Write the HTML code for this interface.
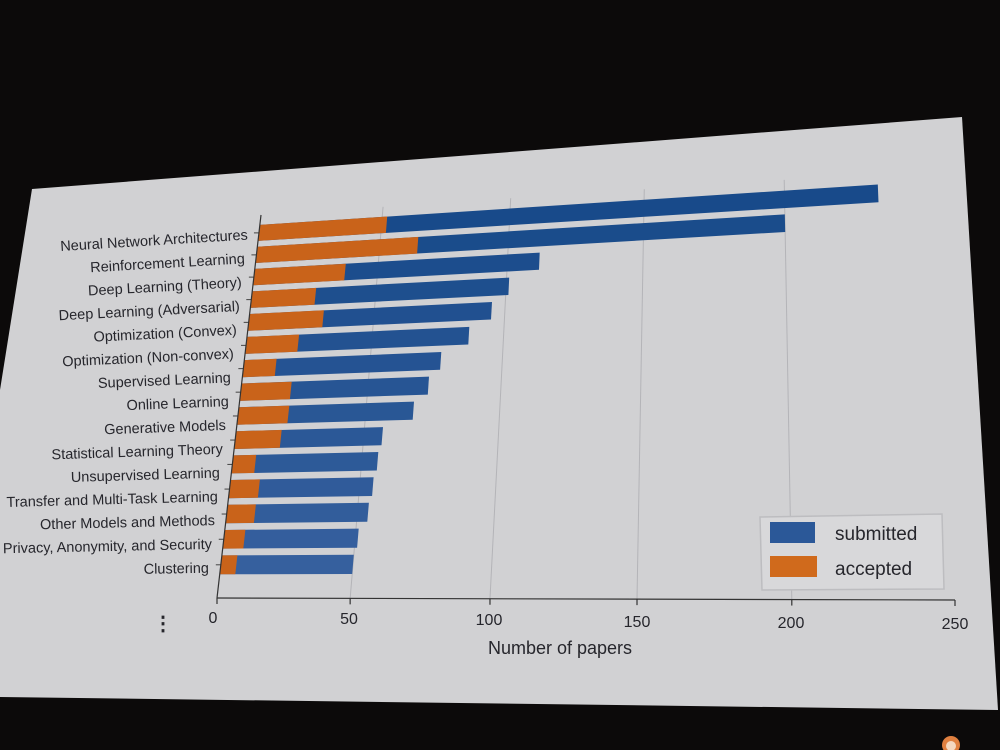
<!DOCTYPE html>
<html><head><meta charset="utf-8"><style>
html,body{margin:0;padding:0;background:#0c0a0a;}
svg{display:block;}
text{font-family:"Liberation Sans",sans-serif;fill:#26262c;}
</style></head><body>
<svg id="s" width="1000" height="750" viewBox="0 0 1000 750" xmlns="http://www.w3.org/2000/svg">
<rect width="1000" height="750" fill="#0c0a0a"/>
<polygon points="32,189 962,117 998,710 0,697 0,390" fill="#d1d1d3"/>
<g id="g"></g>
<g font-size="14.5" text-anchor="end">
<text transform="translate(248,239.5) rotate(-3.5)">Neural Network Architectures</text>
<text transform="translate(245,263.3) rotate(-3.32)">Reinforcement Learning</text>
<text transform="translate(242,287.1) rotate(-3.14)">Deep Learning (Theory)</text>
<text transform="translate(240,310.9) rotate(-2.96)">Deep Learning (Adversarial)</text>
<text transform="translate(237,334.7) rotate(-2.79)">Optimization (Convex)</text>
<text transform="translate(234,358.5) rotate(-2.61)">Optimization (Non-convex)</text>
<text transform="translate(231,382.3) rotate(-2.43)">Supervised Learning</text>
<text transform="translate(229,406.1) rotate(-2.25)">Online Learning</text>
<text transform="translate(226,429.9) rotate(-2.07)">Generative Models</text>
<text transform="translate(223,453.7) rotate(-1.89)">Statistical Learning Theory</text>
<text transform="translate(220,477.5) rotate(-1.71)">Unsupervised Learning</text>
<text transform="translate(218,501.3) rotate(-1.54)">Transfer and Multi-Task Learning</text>
<text transform="translate(215,525.1) rotate(-1.36)">Other Models and Methods</text>
<text transform="translate(212,548.9) rotate(-1.18)">Privacy, Anonymity, and Security</text>
<text transform="translate(209,572.7) rotate(-1.0)">Clustering</text>
</g>
<g font-size="16" text-anchor="middle">
<text x="213" y="623">0</text>
<text x="349" y="624">50</text>
<text x="489" y="625">100</text>
<text x="637" y="627">150</text>
<text x="791" y="628">200</text>
<text x="955" y="629">250</text>
</g>
<text x="560" y="654" font-size="18" text-anchor="middle">Number of papers</text>
<text x="163" y="630" font-size="20" font-weight="bold" text-anchor="middle">⋮</text>
<polygon points="760,517 942,514 944,589 762,590" fill="#d8d8da" stroke="#bdbdc0" stroke-width="1.5"/>
<polygon points="770,522 815,522 815,543 770,543" fill="#2b5898"/>
<polygon points="770,556 817,556 817,577 770,577" fill="#d06a1c"/>
<text x="835" y="540" font-size="19">submitted</text>
<text x="835" y="575" font-size="19">accepted</text>
<circle cx="951" cy="745" r="9" fill="#e08040"/>
<circle cx="951" cy="746" r="5" fill="#f4d8c0"/>
</svg>
<script>
(function(){
var P=[[261,215],[931,170],[955,600],[217,598]];
var x0=P[0][0],y0=P[0][1],x1=P[1][0],y1=P[1][1],x2=P[2][0],y2=P[2][1],x3=P[3][0],y3=P[3][1];
var dx1=x1-x2,dx2=x3-x2,dx3=x0-x1+x2-x3,dy1=y1-y2,dy2=y3-y2,dy3=y0-y1+y2-y3;
var den=dx1*dy2-dx2*dy1;
var g=(dx3*dy2-dx2*dy3)/den,h=(dx1*dy3-dx3*dy1)/den;
var a=x1-x0+g*x1,b=x3-x0+h*x3,c=x0,d=y1-y0+g*y1,e=y3-y0+h*y3,f=y0;
function M(v,w){var u=v/250;var z=g*u+h*w+1;return [(a*u+b*w+c)/z,(d*u+e*w+f)/z];}
var G=document.getElementById('g'),NS='http://www.w3.org/2000/svg';
function poly(pts,fill){var p=document.createElementNS(NS,'polygon');p.setAttribute('points',pts.map(function(q){return q[0].toFixed(1)+','+q[1].toFixed(1)}).join(' '));p.setAttribute('fill',fill);G.appendChild(p);}
function line(A,B,col,wd){var l=document.createElementNS(NS,'line');l.setAttribute('x1',A[0]);l.setAttribute('y1',A[1]);l.setAttribute('x2',B[0]);l.setAttribute('y2',B[1]);l.setAttribute('stroke',col);l.setAttribute('stroke-width',wd);G.appendChild(l);}
[50,100,150,200].forEach(function(v){line(M(v,0),M(v,1),'#b4b4b8',1);});
var data=[[232,52],[200,65],[112,37],[101,26],[95,30],[87,21],[77,13],[73,20],[68,20],[57,18],[56,9],[55,11.5],[54,11],[51,8],[50,6]];
data.forEach(function(r,i){
 var wc=0.051+0.0621*i,hh=0.0228;
 var t=i/14;
 var blue='rgb('+Math.round(24+t*30)+','+Math.round(74+t*22)+','+Math.round(138+t*20)+')';
 poly([M(0,wc-hh),M(r[0],wc-hh),M(r[0],wc+hh),M(0,wc+hh)],blue);
 poly([M(0,wc-hh),M(r[1],wc-hh),M(r[1],wc+hh),M(0,wc+hh)],'#c9631a');
 var A=M(0,wc);line([A[0]-5,A[1]],A,'#444',1);
});
line(M(0,0),M(0,1),'#333',1.2);
line(M(0,1),M(250,1),'#333',1.2);
[0,50,100,150,200,250].forEach(function(v){var A=M(v,1);line(A,[A[0],A[1]+6],'#333',1.2);});
})();
</script>
</body></html>
